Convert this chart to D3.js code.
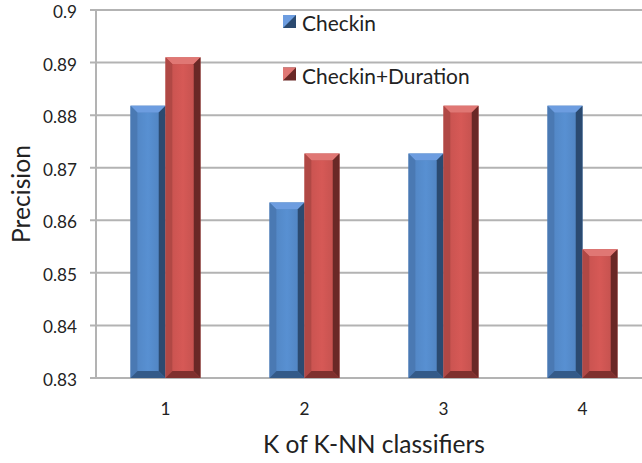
<!DOCTYPE html>
<html><head><meta charset="utf-8">
<script src="https://cdn.jsdelivr.net/npm/d3@7"></script>
<style>body{margin:0;background:#fff}svg{display:block}</style>
</head><body><svg id="c" width="642" height="463"></svg>
<script>
const categories = ["1","2","3","4"];
const seriesNames = ["Checkin","Checkin+Duration"];
const checkin = [0.8818, 0.8634, 0.8727, 0.8818];
const checkinDuration = [0.8910, 0.8727, 0.8818, 0.8545];
const yTicks = [0.83,0.84,0.85,0.86,0.87,0.88,0.89,0.9];

(function(){
const svg = d3.select("#c");
const font = "Lato, 'Open Sans', sans-serif";
const pLeft = 96, pRight = 652, pTop = 10, pBottom = 378;
const x = d3.scaleBand().domain(categories).range([pLeft, pRight]);
const y = d3.scaleLinear().domain([0.83, 0.9]).range([pBottom, pTop]);

// size a font so that a sample string has a given width
function fitSize(sample, width){
  const t = svg.append("text").attr("font-family", font).attr("font-size", 20).text(sample);
  const w = t.node().getComputedTextLength();
  t.remove();
  return 20 * width / w;
}
const tickSize = fitSize("0.89", 34);
const xTitleSize = fitSize("K of K-NN classifiers", 222);
const yTitleSize = fitSize("Precision", 98);
const legendSize = fitSize("Checkin", 74);

const palettes = [
  {face:"#4f81bd", light:"#6d9de0", mid:"#4a79b3", dark:"#2b4a70", bot:"#345a88"},
  {face:"#c0504d", light:"#e07774", mid:"#b04845", dark:"#6a2826", bot:"#7f302e"}
];
const defs = svg.append("defs");
palettes.forEach((p,i)=>{
  const g = defs.append("linearGradient").attr("id","g"+i).attr("x1",0).attr("x2",1);
  g.append("stop").attr("offset",0).attr("stop-color",d3.color(p.face).brighter(0.15));
  g.append("stop").attr("offset",0.5).attr("stop-color",d3.color(p.face).brighter(0.3));
  g.append("stop").attr("offset",1).attr("stop-color",d3.color(p.face).brighter(0.1));
});

svg.append("g").selectAll("line").data(yTicks).join("line")
  .attr("x1", pLeft-6).attr("x2", 642).attr("y1", d=>y(d)).attr("y2", d=>y(d))
  .attr("stroke", "#b3b3b3").attr("stroke-width", 2);
svg.append("line").attr("x1", pLeft).attr("x2", pLeft).attr("y1", pTop).attr("y2", pBottom)
  .attr("stroke", "#b3b3b3").attr("stroke-width", 2);

svg.append("g").selectAll("text").data(yTicks).join("text")
  .attr("x", 77).attr("y", d=>y(d)+2).attr("dy","0.35em").attr("text-anchor","end")
  .attr("font-family", font).attr("font-size", tickSize).attr("fill","#222")
  .text(d=>String(+d.toFixed(2)));

svg.append("g").selectAll("text").data(categories).join("text")
  .attr("x", d=>x(d)+x.bandwidth()/2).attr("y", 409).attr("dy","0.35em").attr("text-anchor","middle")
  .attr("font-family", font).attr("font-size", tickSize).attr("fill","#222").text(d=>d);

svg.append("text").attr("transform","translate(30,194) rotate(-90)").attr("text-anchor","middle")
  .attr("font-family", font).attr("font-size", yTitleSize).attr("fill","#222").text("Precision");
svg.append("text").attr("x", (pLeft+pRight)/2).attr("y", 453).attr("text-anchor","middle")
  .attr("font-family", font).attr("font-size", xTitleSize).attr("fill","#222").text("K of K-NN classifiers");

const bw = 35, bev = 7;
function bar(g, x0, y0, w, h, p, i){
  const x1 = x0 + w, y1 = y0 + h;
  g.append("rect").attr("x",x0).attr("y",y0).attr("width",w).attr("height",h).attr("fill",p.face);
  g.append("polygon").attr("points",[[x0,y0],[x1,y0],[x1-bev,y0+bev],[x0+bev,y0+bev]].join(" ")).attr("fill",p.light);
  g.append("polygon").attr("points",[[x0,y0],[x0+bev,y0+bev],[x0+bev,y1-bev],[x0,y1]].join(" ")).attr("fill",p.mid);
  g.append("polygon").attr("points",[[x1,y0],[x1,y1],[x1-bev,y1-bev],[x1-bev,y0+bev]].join(" ")).attr("fill",p.dark);
  g.append("polygon").attr("points",[[x0,y1],[x1,y1],[x1-bev,y1-bev],[x0+bev,y1-bev]].join(" ")).attr("fill",p.bot);
  g.append("rect").attr("x",x0+bev).attr("y",y0+bev).attr("width",w-2*bev).attr("height",Math.max(0,h-2*bev)).attr("fill","url(#g"+i+")");
}
const series = [checkin, checkinDuration];
series.forEach((vals, si)=>{
  const g = svg.append("g");
  vals.forEach((v, ci)=>{
    const cx = x(categories[ci]) + x.bandwidth()/2;
    const x0 = si === 0 ? cx - bw : cx;
    bar(g, x0, y(v), bw, pBottom - y(v), palettes[si], si);
  });
});

const lg = svg.append("g");
seriesNames.forEach((n,i)=>{
  const base = 31 + i*52.5;
  const p = palettes[i];
  const s = 13, sx = 283, sy = base-16;
  lg.append("rect").attr("x",sx).attr("y",sy).attr("width",s).attr("height",s).attr("fill",p.dark);
  lg.append("polygon").attr("points",[[sx,sy],[sx+s,sy],[sx,sy+s]].join(" ")).attr("fill",p.light);
  lg.append("text").attr("x",302).attr("y",base).attr("font-family",font)
    .attr("font-size",legendSize).attr("fill","#222").text(n);
});
})();
</script></body></html>
